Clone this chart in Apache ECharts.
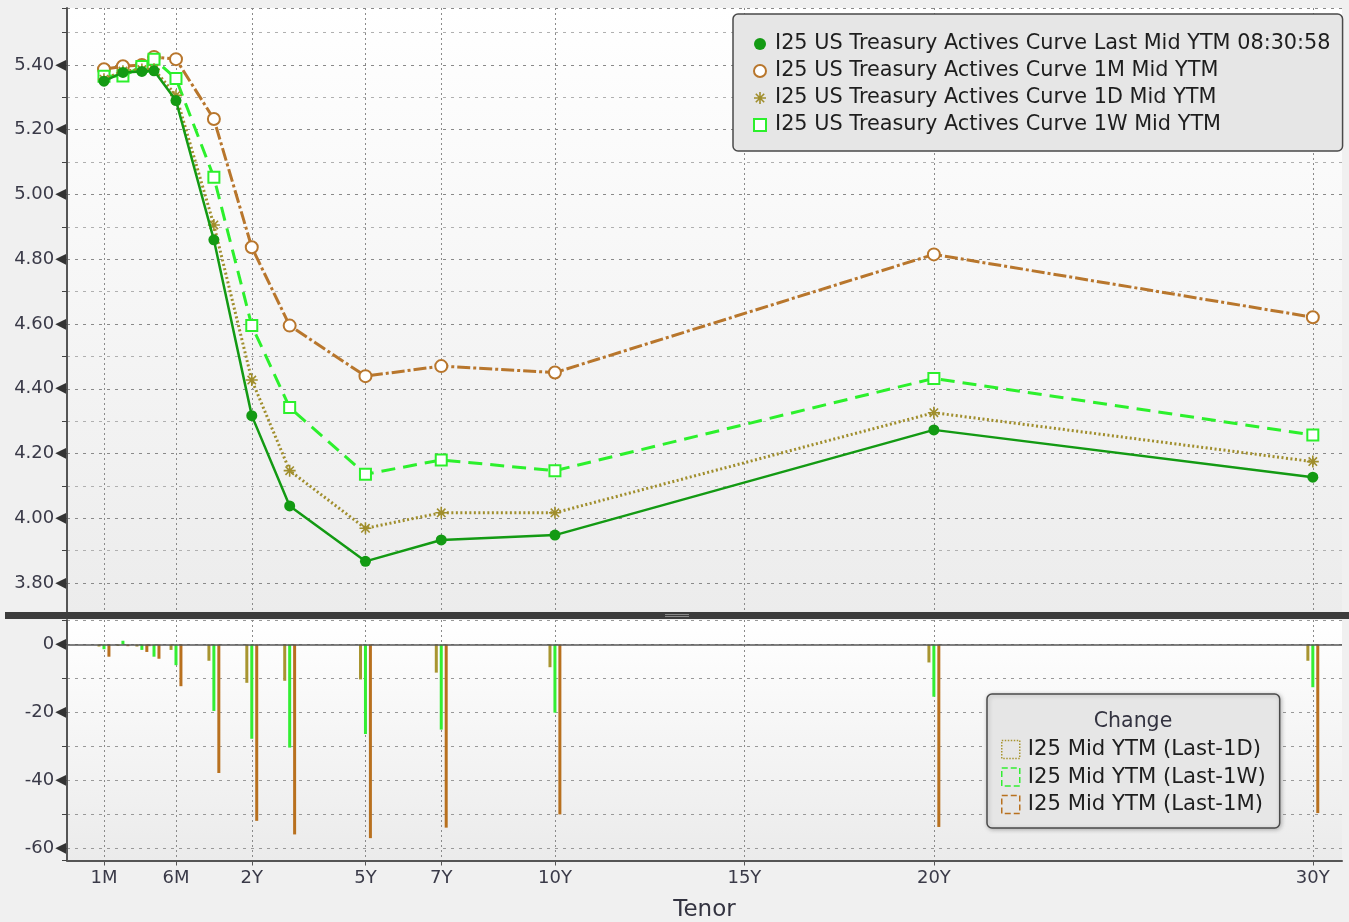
<!DOCTYPE html>
<html><head><meta charset="utf-8">
<script src="https://cdn.jsdelivr.net/npm/echarts@6/dist/echarts.min.js"></script>
<style>html,body{margin:0;padding:0;background:#f0f0f0}#c{width:1349px;height:922px}</style>
</head><body><div id="c"></div><script>
// ---- data ----
const tenors = ['1M','2M','3M','4M','6M','1Y','2Y','3Y','5Y','7Y','10Y','20Y','30Y'];
const tenorYears = [1/12, 2/12, 3/12, 4/12, 0.5, 1, 2, 3, 5, 7, 10, 20, 30];
const ytmLast = [5.350, 5.377, 5.380, 5.382, 5.290, 4.860, 4.317, 4.038, 3.867, 3.933, 3.948, 4.273, 4.127];
const ytm1M   = [5.387, 5.396, 5.400, 5.425, 5.418, 5.233, 4.837, 4.595, 4.439, 4.470, 4.450, 4.815, 4.621];
const ytm1D   = [5.356, 5.381, 5.386, 5.387, 5.306, 4.906, 4.427, 4.147, 3.969, 4.017, 4.017, 4.326, 4.175];
const ytm1W   = [5.365, 5.366, 5.395, 5.418, 5.358, 5.053, 4.595, 4.342, 4.136, 4.180, 4.147, 4.432, 4.257];
const chg1D = [-0.6, -0.4, -0.6, -0.5, -1.6, -4.8, -11.3, -10.7, -10.3, -8.3, -6.7, -5.3, -4.8];
const chg1W = [-1.4, 1.1, -1.6, -3.6, -6.1, -19.6, -27.8, -30.4, -26.4, -25.1, -20.1, -15.4, -12.6];
const chg1M = [-3.6, -0.5, -2.2, -4.2, -12.3, -37.9, -52.0, -56.0, -57.1, -54.0, -50.1, -53.8, -49.7];
const xTickLabels = ['1M','6M','2Y','5Y','7Y','10Y','15Y','20Y','30Y'];
const xTickYears = [1/12, 0.5, 2, 5, 7, 10, 15, 20, 30];
const seriesNames = [
  'I25 US Treasury Actives Curve Last Mid YTM 08:30:58',
  'I25 US Treasury Actives Curve 1M Mid YTM',
  'I25 US Treasury Actives Curve 1D Mid YTM',
  'I25 US Treasury Actives Curve 1W Mid YTM'
];
const changeNames = ['I25 Mid YTM (Last-1D)','I25 Mid YTM (Last-1W)','I25 Mid YTM (Last-1M)'];

// Bloomberg-style tenor axis scale (piecewise linear knots: years -> axis units)
const scaleKnots = [[1/12, -1.9], [0.25, -0.9], [1/3, -0.58], [0.5, 0], [1, 1], [30, 30]];
function tenorScale(t) {
  for (let i = 1; i < scaleKnots.length; i++) {
    const [t0, p0] = scaleKnots[i-1], [t1, p1] = scaleKnots[i];
    if (t <= t1 || i === scaleKnots.length - 1) return p0 + (t - t0) * (p1 - p0) / (t1 - t0);
  }
}
const xTickVals = xTickYears.map(tenorScale);
function xLabel(v) {
  for (let i = 0; i < xTickVals.length; i++) if (Math.abs(xTickVals[i] - v) < 1e-6) return xTickLabels[i];
  return '';
}
const pairs = arr => arr.map((v, i) => [tenorScale(tenorYears[i]), v]);

// ---- styles ----
const FONT = 'DejaVu Sans';
const cLast = '#139a13', c1M = '#b8762c', c1D = '#a08e2c', c1W = '#2cf02c';
const b1D = '#a89530', b1W = '#33ee33', b1M = '#b8701e';
const asterisk = 'path://M6,0V12M0,6H12M1.8,1.8L10.2,10.2M10.2,1.8L1.8,10.2';
const gridGrad = (a, b) => ({type:'linear', x:0, y:0, x2:0, y2:1, colorStops:[{offset:0,color:a},{offset:1,color:b}]});
const yMajorLabel = (step, dec) => v => {
  const r = v / step;
  if (Math.abs(r - Math.round(r)) > 1e-6) return '';
  return '{v|' + v.toFixed(dec) + '}{t|◀}';
};
const yRich = {v:{fontFamily:FONT, fontSize:18, color:'#3a3a48'}, t:{fontFamily:FONT, fontSize:14, color:'#333', padding:[0,0,0,1]}};
const xMin = -2.876, xMax = 30.77;

const chart = echarts.init(document.getElementById('c'));
chart.setOption({
  backgroundColor: '#f0f0f0',
  animation: false,
  grid: [
    {left:67, right:7, top:8, height:607.4, show:true, borderWidth:0, outerBoundsMode:'none', containLabel:false,
     backgroundColor: gridGrad('#ffffff','#ececec')},
    {left:67, right:7, top:620, height:240.5, show:true, borderWidth:0, outerBoundsMode:'none', containLabel:false,
     backgroundColor: gridGrad('#ffffff','#ebebeb')}
  ],
  xAxis: [
    {type:'value', gridIndex:0, min:xMin, max:xMax,
     axisLine:{show:false, onZero:false}, axisLabel:{show:false},
     axisTick:{show:false, customValues:xTickVals},
     splitLine:{show:true, lineStyle:{color:'#8a8a8a', type:[2,3], width:1}}},
    {type:'value', gridIndex:1, min:xMin, max:xMax,
     name:'Tenor', nameLocation:'middle', nameGap:38,
     nameTextStyle:{fontFamily:FONT, fontSize:23, color:'#333340'},
     axisLine:{show:true, onZero:false, lineStyle:{color:'#555', width:2}},
     axisTick:{show:true, length:5, customValues:xTickVals, lineStyle:{color:'#555'}},
     axisLabel:{customValues:xTickVals, formatter:xLabel, fontFamily:FONT, fontSize:18, color:'#3a3a48', margin:9},
     splitLine:{show:true, lineStyle:{color:'#8a8a8a', type:[2,3], width:1}}}
  ],
  yAxis: [
    {type:'value', gridIndex:0, min:3.7, max:5.576, interval:0.1,
     axisLine:{show:true, onZero:false, lineStyle:{color:'#555', width:2}},
     axisTick:{show:true, length:5, lineStyle:{color:'#444'}},
     axisLabel:{formatter:yMajorLabel(0.2, 2), rich:yRich, margin:1},
     splitLine:{show:true, lineStyle:{color:['#b0b0b0','#8a8a8a'], type:[3,5], width:1}}},
    {type:'value', gridIndex:1, min:-63.69, max:7.22, splitNumber:7, minInterval:10, maxInterval:10,
     axisLine:{show:true, onZero:false, lineStyle:{color:'#555', width:2}},
     axisTick:{show:true, length:5, lineStyle:{color:'#444'}},
     axisLabel:{formatter:yMajorLabel(20, 0), rich:yRich, margin:1},
     splitLine:{show:true, lineStyle:{color:'#999', type:[3,5], width:1}}}
  ],
  legend: [
    {orient:'vertical', left:733, top:14, padding:[18,12,14,20], itemGap:3, itemWidth:12, itemHeight:12,
     selectedMode:false, backgroundColor:'#e6e6e6', borderColor:'#4a4a4a', borderWidth:1.5, borderRadius:5,
     textStyle:{fontFamily:FONT, fontSize:20.8, color:'#1e1e1e', lineHeight:24, padding:[0,0,0,4]},
     data:[
       {name:seriesNames[0], icon:'circle', itemStyle:{color:cLast}},
       {name:seriesNames[1], icon:'emptyCircle', itemStyle:{color:c1M, borderColor:c1M, borderWidth:1.5}},
       {name:seriesNames[2], icon:asterisk, itemStyle:{color:c1D, borderColor:c1D, borderWidth:1.6}},
       {name:seriesNames[3], icon:'emptyRect', itemStyle:{color:c1W, borderColor:c1W, borderWidth:1.5}}
     ]},
    {orient:'vertical', left:987, top:694, padding:[44,14,12,14], itemGap:4.5, itemWidth:18, itemHeight:18,
     selectedMode:false, backgroundColor:'#e6e6e6', borderColor:'#4a4a4a', borderWidth:1.5, borderRadius:5,
     shadowBlur:4, shadowColor:'rgba(0,0,0,0.25)', shadowOffsetX:1, shadowOffsetY:1,
     textStyle:{fontFamily:FONT, fontSize:21.2, color:'#1e1e1e', lineHeight:23, padding:[0,0,0,3]},
     data:[
       {name:changeNames[0], icon:'rect', itemStyle:{color:'transparent', borderColor:b1D, borderWidth:1.5, borderType:'dotted'}},
       {name:changeNames[1], icon:'rect', itemStyle:{color:'transparent', borderColor:b1W, borderWidth:1.5, borderType:'dashed'}},
       {name:changeNames[2], icon:'rect', itemStyle:{color:'transparent', borderColor:b1M, borderWidth:1.5, borderType:'dashed'}}
     ]}
  ],
  graphic: [
    {type:'rect', z:50, shape:{x:5, y:612, width:1344, height:7}, style:{fill:'#3c3c3c'}},
    {type:'rect', z:51, shape:{x:665, y:614, width:24, height:1}, style:{fill:'#8a8a8a'}},
    {type:'rect', z:51, shape:{x:665, y:616, width:24, height:1}, style:{fill:'#8a8a8a'}},
    {type:'text', z:60, x:1133, y:722, style:{text:'Change', align:'center', verticalAlign:'middle', fontFamily:FONT, fontSize:20.5, fill:'#333340'}}
  ],
  series: [
    {name:seriesNames[1], type:'line', xAxisIndex:0, yAxisIndex:0, data:pairs(ytm1M),
     symbol:'emptyCircle', symbolSize:12, lineStyle:{color:c1M, width:3, type:[13,3,3,3]},
     itemStyle:{color:c1M, borderColor:c1M, borderWidth:1.5}, z:3},
    {name:seriesNames[3], type:'line', xAxisIndex:0, yAxisIndex:0, data:pairs(ytm1W),
     symbol:'emptyRect', symbolSize:11, lineStyle:{color:c1W, width:3, type:[14,8]},
     itemStyle:{color:c1W, borderColor:c1W, borderWidth:1.5}, z:4},
    {name:seriesNames[2], type:'line', xAxisIndex:0, yAxisIndex:0, data:pairs(ytm1D),
     symbol:asterisk, symbolSize:12, lineStyle:{color:c1D, width:3, type:[2,2.5]},
     itemStyle:{color:c1D, borderColor:c1D, borderWidth:1.6}, z:5},
    {name:seriesNames[0], type:'line', xAxisIndex:0, yAxisIndex:0, data:pairs(ytmLast),
     symbol:'circle', symbolSize:11, lineStyle:{color:cLast, width:2.5},
     itemStyle:{color:cLast}, z:6},
    {name:changeNames[0], type:'bar', xAxisIndex:1, yAxisIndex:1, data:pairs(chg1D),
     barWidth:3, barGap:'65%', itemStyle:{color:b1D},
     markLine:{silent:true, symbol:'none', label:{show:false}, lineStyle:{color:'#555', type:'solid', width:1.5}, data:[{yAxis:0}]}},
    {name:changeNames[1], type:'bar', xAxisIndex:1, yAxisIndex:1, data:pairs(chg1W),
     barWidth:3, barGap:'65%', itemStyle:{color:b1W}},
    {name:changeNames[2], type:'bar', xAxisIndex:1, yAxisIndex:1, data:pairs(chg1M),
     barWidth:3, barGap:'65%', itemStyle:{color:b1M}}
  ]
});
</script></body></html>
